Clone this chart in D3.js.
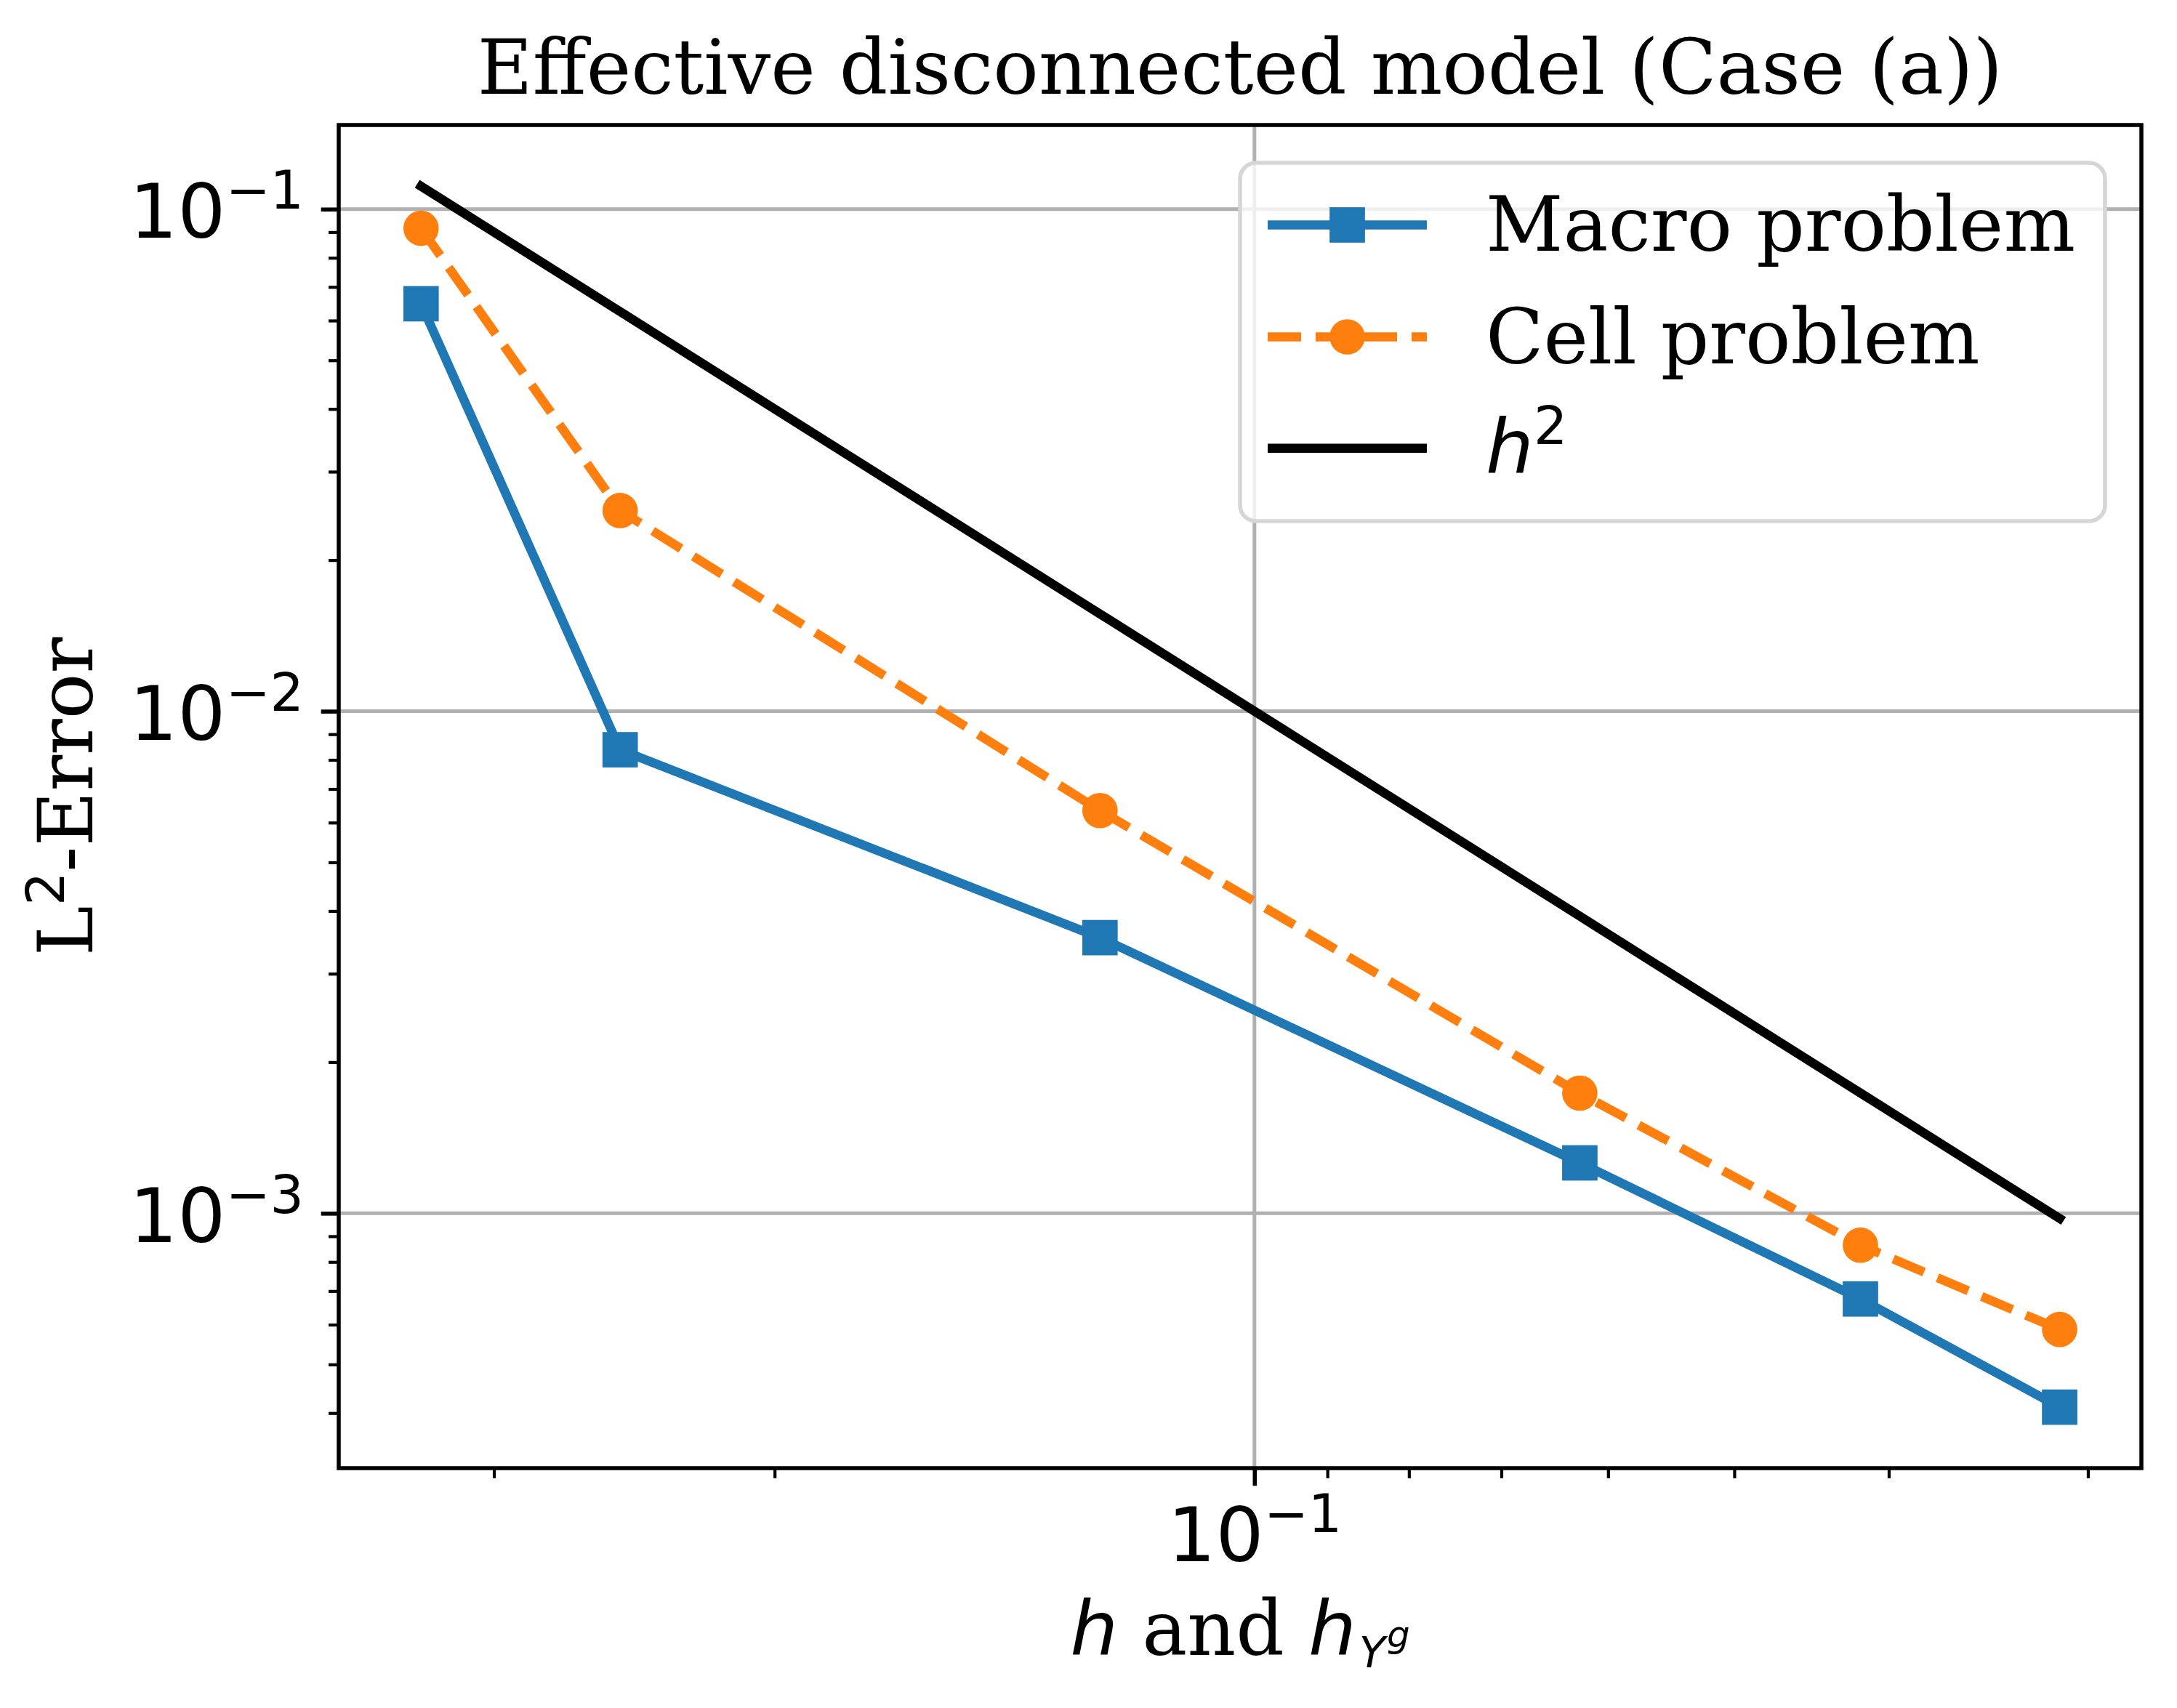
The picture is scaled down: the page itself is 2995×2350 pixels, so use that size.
<!DOCTYPE html>
<html><head><meta charset="utf-8">
<script src="https://cdn.jsdelivr.net/npm/d3@7"></script>
<style>html,body{margin:0;padding:0;background:#fff;} svg{display:block;}</style>
</head><body>
<svg id="chart" width="2995" height="2350"></svg>
<script>
// ---- data ----
const hValues     = [0.3333, 0.25, 0.125, 0.0625, 0.04167, 0.03125];
const macroError  = [0.0648, 0.00838, 0.00354, 0.00126, 0.000675, 0.000411];
const cellError   = [0.0916, 0.0251, 0.00634, 0.001735, 0.000864, 0.000587];
const h2Reference = [0.1111, 0.0625, 0.015625, 0.003906, 0.001736, 0.0009766];
const seriesNames = ["Macro problem", "Cell problem", "h"];
const xMajorTicks = [0.1];
const xTickLabels = [["10", "\u22121"]];
const xMinorTicks = [0.3, 0.2, 0.09, 0.08, 0.07, 0.06, 0.05, 0.04, 0.03];
const yMajorTicks = [0.1, 0.01, 0.001];
const yTickLabels = [["10", "\u22121"], ["10", "\u22122"], ["10", "\u22123"]];
const yMinorTicks = [0.09,0.08,0.07,0.06,0.05,0.04,0.03,0.02,
                     0.009,0.008,0.007,0.006,0.005,0.004,0.003,0.002,
                     0.0009,0.0008,0.0007,0.0006,0.0005,0.0004];
const xDomain = [0.3754, 0.02777];
const yDomain = [3.107e-4, 0.1471];
const titleText = "Effective disconnected model (Case (a))";

// ---- layout ----
const L = 466, R = 2946, T = 172, B = 2020;
const svg = d3.select("#chart");
const x = d3.scaleLog().domain(xDomain).range([L, R]);
const y = d3.scaleLog().domain(yDomain).range([B, T]);
const SERIF = "'DejaVu Serif', serif";
const SANS = "'DejaVu Sans', sans-serif";
const LW = 12.5;
const FS = 104;

svg.append("rect").attr("width", 2995).attr("height", 2350).attr("fill", "#fff");

// clip
svg.append("clipPath").attr("id", "clip").append("rect")
  .attr("x", L).attr("y", T).attr("width", R - L).attr("height", B - T);

// grid
const grid = svg.append("g").attr("clip-path", "url(#clip)");
grid.selectAll("line.gx").data(xMajorTicks).join("line")
  .attr("x1", d => x(d)).attr("x2", d => x(d)).attr("y1", T).attr("y2", B)
  .attr("stroke", "#b0b0b0").attr("stroke-width", 5);
grid.selectAll("line.gy").data(yMajorTicks).join("line")
  .attr("y1", d => y(d)).attr("y2", d => y(d)).attr("x1", L).attr("x2", R)
  .attr("stroke", "#b0b0b0").attr("stroke-width", 5);

// series
const plot = svg.append("g").attr("clip-path", "url(#clip)");
const line = d3.line().x(d => x(d[0])).y(d => y(d[1]));
const macroPts = hValues.map((h, i) => [h, macroError[i]]);
const cellPts = hValues.map((h, i) => [h, cellError[i]]);
const refPts = hValues.map((h, i) => [h, h2Reference[i]]);
const MS = 48.7;

plot.append("path").datum(macroPts).attr("d", line).attr("fill", "none")
  .attr("stroke", "#1f77b4").attr("stroke-width", LW)
  .attr("stroke-linejoin", "round").attr("stroke-linecap", "square");
plot.selectAll("rect.m").data(macroPts).join("rect")
  .attr("x", d => x(d[0]) - MS / 2).attr("y", d => y(d[1]) - MS / 2)
  .attr("width", MS).attr("height", MS).attr("fill", "#1f77b4");

plot.append("path").datum(cellPts).attr("d", line).attr("fill", "none")
  .attr("stroke", "#ff7f0e").attr("stroke-width", LW)
  .attr("stroke-dasharray", "46,20").attr("stroke-linejoin", "round");
plot.selectAll("circle.c").data(cellPts).join("circle")
  .attr("cx", d => x(d[0])).attr("cy", d => y(d[1])).attr("r", MS / 2)
  .attr("fill", "#ff7f0e");

plot.append("path").datum(refPts).attr("d", line).attr("fill", "none")
  .attr("stroke", "#000").attr("stroke-width", LW)
  .attr("stroke-linejoin", "round").attr("stroke-linecap", "square");

// axes
function styleAxis(g, w) {
  g.select(".domain").remove();
  g.selectAll(".tick line").attr("stroke", "#000").attr("stroke-width", w);
}
const gxMinor = svg.append("g").attr("transform", `translate(0,${B})`)
  .call(d3.axisBottom(x).tickValues(xMinorTicks).tickSize(13.9).tickFormat(() => ""));
styleAxis(gxMinor, 4.2);
const gyMinor = svg.append("g").attr("transform", `translate(${L},0)`)
  .call(d3.axisLeft(y).tickValues(yMinorTicks).tickSize(13.9).tickFormat(() => ""));
styleAxis(gyMinor, 4.2);

const gx = svg.append("g").attr("transform", `translate(0,${B})`)
  .call(d3.axisBottom(x).tickValues(xMajorTicks).tickSize(24.3).tickFormat(() => ""));
styleAxis(gx, 5.6);
gx.selectAll(".tick text").each(function (d, i) {
  const t = d3.select(this).text(null)
    .attr("y", 128).attr("dy", null).attr("fill", "#000")
    .attr("font-family", SANS).attr("font-size", FS).attr("text-anchor", "middle");
  t.append("tspan").text(xTickLabels[i][0]);
  t.append("tspan").attr("dy", -40).attr("font-size", 73).text(xTickLabels[i][1]);
});

const gy = svg.append("g").attr("transform", `translate(${L},0)`)
  .call(d3.axisLeft(y).tickValues(yMajorTicks).tickSize(24.3).tickFormat(() => ""));
styleAxis(gy, 5.6);
gy.selectAll(".tick text").each(function (d, i) {
  const t = d3.select(this).text(null)
    .attr("x", -48).attr("y", 39).attr("dy", null).attr("fill", "#000")
    .attr("font-family", SANS).attr("font-size", FS).attr("text-anchor", "end");
  t.append("tspan").text(yTickLabels[i][0]);
  t.append("tspan").attr("dy", -40).attr("font-size", 73).text(yTickLabels[i][1]);
});

// spines
svg.append("rect").attr("x", L).attr("y", T).attr("width", R - L).attr("height", B - T)
  .attr("fill", "none").attr("stroke", "#000").attr("stroke-width", 5.5);

// title
svg.append("text").attr("x", (L + R) / 2).attr("y", 129).attr("text-anchor", "middle")
  .attr("font-family", SERIF).attr("font-size", 104).text(titleText);

// x label
const xl = svg.append("text").attr("x", (L + R) / 2).attr("y", 2277)
  .attr("text-anchor", "middle").attr("font-size", FS);
xl.append("tspan").attr("font-family", SANS).attr("font-style", "italic").text("h");
xl.append("tspan").attr("font-family", SERIF).text(" and ");
xl.append("tspan").attr("font-family", SANS).attr("font-style", "italic").text("h");
xl.append("tspan").attr("font-family", SANS).attr("font-style", "italic")
  .attr("font-size", 59).attr("dy", 17).attr("dx", 4).text("Y");
xl.append("tspan").attr("font-family", SANS).attr("font-style", "italic")
  .attr("font-size", 50).attr("dy", -28).attr("dx", 2).text("g");

// y label
const yl = svg.append("text").attr("transform", `translate(127,${(T + B) / 2}) rotate(-90)`)
  .attr("text-anchor", "middle").attr("font-size", FS);
yl.append("tspan").attr("font-family", SERIF).text("L");
yl.append("tspan").attr("font-family", SANS).attr("font-size", 73).attr("dy", -39).text("2");
yl.append("tspan").attr("font-family", SERIF).attr("dy", 39).text("-Error");

// legend
const lg = svg.append("g");
lg.append("rect").attr("x", 1706).attr("y", 224).attr("width", 1190).attr("height", 493)
  .attr("rx", 22).attr("fill", "#fff").attr("fill-opacity", 0.8)
  .attr("stroke", "#d6d6d6").attr("stroke-width", 5.6);
const rowY = [309.5, 463.5, 616.7];
const hx0 = 1744, hx1 = 1963, hxc = (hx0 + hx1) / 2, tx = 2044;
// Macro
lg.append("line").attr("x1", hx0).attr("x2", hx1).attr("y1", rowY[0]).attr("y2", rowY[0])
  .attr("stroke", "#1f77b4").attr("stroke-width", LW);
lg.append("rect").attr("x", hxc - MS / 2).attr("y", rowY[0] - MS / 2)
  .attr("width", MS).attr("height", MS).attr("fill", "#1f77b4");
// Cell
lg.append("line").attr("x1", hx0).attr("x2", hx1).attr("y1", rowY[1]).attr("y2", rowY[1])
  .attr("stroke", "#ff7f0e").attr("stroke-width", LW).attr("stroke-dasharray", "46,20");
lg.append("circle").attr("cx", hxc).attr("cy", rowY[1]).attr("r", MS / 2).attr("fill", "#ff7f0e");
// h2
lg.append("line").attr("x1", hx0).attr("x2", hx1).attr("y1", rowY[2]).attr("y2", rowY[2])
  .attr("stroke", "#000").attr("stroke-width", LW);

lg.append("text").attr("x", tx).attr("y", rowY[0] + 35).attr("font-family", SERIF)
  .attr("font-size", FS).text(seriesNames[0]);
lg.append("text").attr("x", tx).attr("y", rowY[1] + 36).attr("font-family", SERIF)
  .attr("font-size", FS).text(seriesNames[1]);
const ht = lg.append("text").attr("x", tx).attr("y", rowY[2] + 34).attr("font-size", FS)
  .attr("font-family", SANS);
ht.append("tspan").attr("font-style", "italic").text(seriesNames[2]);
ht.append("tspan").attr("font-size", 73).attr("dy", -40).text("2");
</script>
</body></html>
